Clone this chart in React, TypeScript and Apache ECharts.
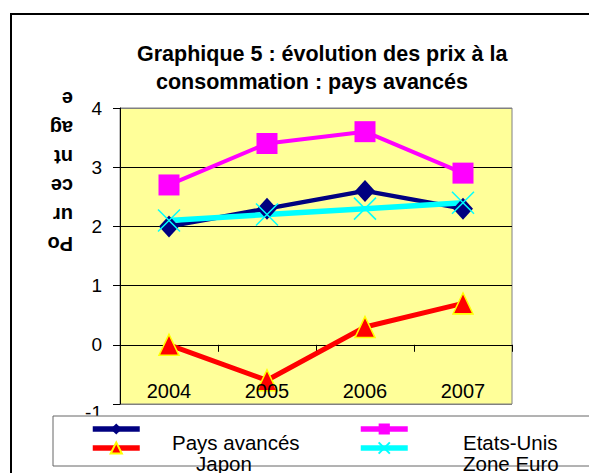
import React, { useEffect, useRef } from "react";
import * as echarts from "echarts";

const categories = ["2004", "2005", "2006", "2007"];
const paysAvances = [2.0, 2.3, 2.6, 2.3];
const etatsUnis = [2.7, 3.4, 3.6, 2.9];
const japon = [0.0, -0.6, 0.3, 0.7];
const zoneEuro = [2.1, 2.2, 2.3, 2.4];
const yMin = -1;
const yMax = 4;
const yInterval = 1;
const titleLine1 = "Graphique 5 : évolution des prix à la";
const titleLine2 = "consommation : pays avancés";
const yAxisName = "Po\nur\nce\nnt\nag\ne";
const names = ["Pays avancés", "Etats-Unis", "Japon", "Zone Euro"];

const FONT = "'Liberation Sans', Arial, sans-serif";

export default function App() {
  const ref = useRef<HTMLDivElement>(null);
  useEffect(() => {
    if (!ref.current) return;
    const chart = echarts.init(ref.current, undefined, { renderer: "svg" });
    const legendCommon = {
      orient: "horizontal" as const,
      itemWidth: 47,
      itemHeight: 14,
      padding: 0,
      selectedMode: false,
      formatter: () => "",
      textStyle: { fontSize: 1 },
      lineStyle: { width: 5.5 },
      z: 5,
    };
    const legendLabel = (text: string, x: number, y: number) => ({
      type: "text",
      x,
      y,
      style: {
        text,
        fontFamily: FONT,
        fontSize: 20.5,
        fill: "#000",
        align: "left",
        verticalAlign: "middle",
      },
      z: 6,
      silent: true,
    });
    chart.setOption({
      animation: false,
      backgroundColor: "#fff",
      title: [
        {
          text: titleLine1,
          left: 137,
          top: 43,
          padding: 0,
          textStyle: { fontFamily: FONT, fontSize: 21.5, fontWeight: "bold", color: "#000" },
        },
        {
          text: titleLine2,
          left: 156,
          top: 71,
          padding: 0,
          textStyle: { fontFamily: FONT, fontSize: 21.5, fontWeight: "bold", color: "#000" },
        },
      ],
      legend: [
        { ...legendCommon, left: 90, top: 422, data: [names[0]] },
        { ...legendCommon, left: 90, top: 441, data: [names[2]] },
        { ...legendCommon, left: 358, top: 422, data: [names[1]] },
        { ...legendCommon, left: 358, top: 441, data: [names[3]] },
      ],
      grid: {
        left: 120,
        top: 108,
        width: 392,
        height: 296,
        show: true,
        backgroundColor: "#FFFF99",
        borderColor: "#808080",
        borderWidth: 1,
      },
      xAxis: [
        {
          type: "category",
          data: categories,
          boundaryGap: true,
          position: "bottom",
          offset: 0,
          z: 3,
          axisLine: { show: false, onZero: false },
          axisTick: { show: false },
          axisLabel: { inside: true, margin: 3, fontFamily: FONT, fontSize: 20, color: "#000" },
          splitLine: { show: false },
        },
        {
          type: "category",
          data: categories,
          boundaryGap: true,
          position: "bottom",
          offset: 0,
          axisLine: { show: true, onZero: true, lineStyle: { color: "#000", width: 1 } },
          axisTick: { show: true, length: 7, alignWithLabel: false, lineStyle: { color: "#000" } },
          axisLabel: { show: false },
          splitLine: { show: false },
        },
      ],
      yAxis: {
        type: "value",
        min: yMin,
        max: yMax,
        interval: yInterval,
        axisLine: { show: true, onZero: false, lineStyle: { color: "#000", width: 1 } },
        axisTick: { show: true, length: 7, lineStyle: { color: "#000" } },
        axisLabel: {
          margin: 18,
          fontFamily: FONT,
          fontSize: 19,
          color: "#000",
          formatter: (v: number) => (v === yMin ? "{low|" + v + "}" : String(v)),
          rich: {
            low: { fontFamily: FONT, fontSize: 19, color: "#000", padding: [16, 0, 0, 0] },
          },
        },
        splitLine: {
          show: true,
          lineStyle: { color: ["#808080", "#000", "#000", "#000", "#000", "#808080"], width: 1 },
        },
      },
      series: [
        {
          name: names[0],
          type: "line",
          data: paysAvances,
          symbol: "diamond",
          symbolSize: [20, 22],
          lineStyle: { color: "#000080", width: 4.5 },
          itemStyle: { color: "#000080" },
          emphasis: { disabled: true },
          z: 2,
        },
        {
          name: names[1],
          type: "line",
          data: etatsUnis,
          symbol: "rect",
          symbolSize: 21,
          lineStyle: { color: "#FF00FF", width: 4 },
          itemStyle: { color: "#FF00FF" },
          emphasis: { disabled: true },
          z: 2,
        },
        {
          name: names[2],
          type: "line",
          data: japon,
          symbol: "triangle",
          symbolSize: [20, 21],
          lineStyle: { color: "#FF0000", width: 5 },
          itemStyle: { color: "#FF0000", borderColor: "#FFFF00", borderWidth: 1.5 },
          emphasis: { disabled: true },
          z: 2,
        },
        {
          name: names[3],
          type: "line",
          data: zoneEuro,
          symbol: "path://M0,0L10,10M10,0L0,10",
          symbolSize: 22,
          lineStyle: { color: "#00FFFF", width: 5.5 },
          itemStyle: { color: "#00FFFF", borderColor: "#00FFFF", borderWidth: 1.5 },
          emphasis: { disabled: true },
          z: 2,
        },
      ],
      graphic: [
        {
          type: "rect",
          shape: { x: 11, y: 14, width: 700, height: 600 },
          style: { fill: "none", stroke: "#000", lineWidth: 2 },
          z: 1,
          silent: true,
        },
        {
          type: "rect",
          shape: { x: 53, y: 416, width: 700, height: 50 },
          style: { fill: "#fff", stroke: "#666", lineWidth: 1 },
          z: 3,
          silent: true,
        },
        legendLabel(names[0], 172, 442),
        legendLabel(names[2], 196, 463),
        legendLabel(names[1], 463, 442),
        legendLabel(names[3], 463, 463),
        {
          type: "text",
          x: 73,
          y: 171,
          rotation: Math.PI,
          style: {
            text: yAxisName,
            fontFamily: FONT,
            fontSize: 20,
            fontWeight: "bold",
            fill: "#000",
            align: "left",
            verticalAlign: "middle",
            lineHeight: 29,
          },
          z: 3,
        },
      ],
    });
    return () => chart.dispose();
  }, []);
  return (
    <div
      ref={ref}
      style={{ position: "absolute", left: 0, top: 0, width: 589, height: 473 }}
    />
  );
}
